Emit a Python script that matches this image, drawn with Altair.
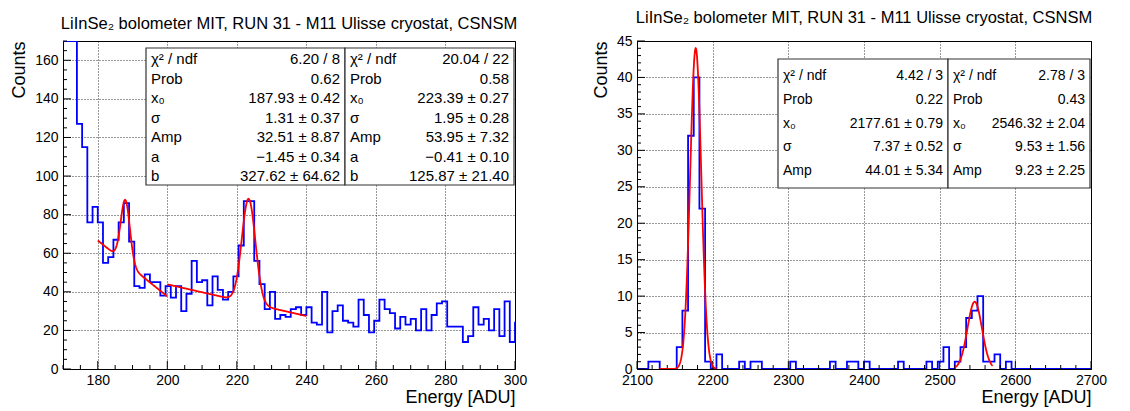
import altair as alt
import numpy as np
import pandas as pd

FONT = "Liberation Sans"
TITLE = "LiInSe₂ bolometer MIT, RUN 31 - M11 Ulisse cryostat, CSNSM"

# ---------------- left histogram (bin width 1.5, first bin starts at 168)
left_bin_start = 168.0
left_bin_width = 1.5
left_counts = [
    170, 170, 170, 170, 127, 115, 76, 84, 76, 55, 58, 67, 76, 86, 66, 43,
    42, 49, 45, 45, 38, 43, 37, 43, 30, 39, 56, 45, 46, 33, 48, 41,
    36, 40, 48, 64, 87, 87, 56, 44, 31, 40, 26, 28, 27, 31, 32, 28,
    32, 24, 23, 40, 19, 30, 33, 25, 24, 22, 36, 28, 19, 25, 36, 31,
    29, 21, 27, 23, 26, 20, 31, 20, 28, 34, 35, 22, 22, 22, 14, 17,
    32, 23, 26, 20, 31, 17, 35, 14, 24,
]
left_x_domain = [170, 300]
left_y_domain = [0, 170]
left_x_major = [180, 200, 220, 240, 260, 280, 300]
left_y_major = [0, 20, 40, 60, 80, 100, 120, 140, 160]

# fits: gaussian + linear (left), gaussian (right)
left_fit_x0 = [187.93, 223.39]
left_fit_sigma = [1.31, 1.95]
left_fit_amp = [32.51, 53.95]
left_fit_a = [-1.45, -0.41]
left_fit_b = [327.62, 125.87]
left_fit_range = [[180, 200], [200, 240]]

left_stat_labels = ["χ² / ndf", "Prob", "x₀", "σ", "Amp", "a", "b"]
left_stat_values = [
    ["6.20 / 8", "0.62", "187.93 ± 0.42", "1.31 ± 0.37", "32.51 ± 8.87", "−1.45 ± 0.34", "327.62 ± 64.62"],
    ["20.04 / 22", "0.58", "223.39 ± 0.27", "1.95 ± 0.28", "53.95 ± 7.32", "−0.41 ± 0.10", "125.87 ± 21.40"],
]

# ---------------- right histogram (bin width 7.5 from 2100)
right_bin_start = 2100.0
right_bin_width = 7.5
right_counts = [
    0, 0, 1, 1, 0, 0, 0, 3, 8, 32, 40, 22, 1, 0, 2, 0,
    0, 0, 1, 0, 1, 1, 0, 0, 0, 0, 0, 1, 0, 0, 0, 0,
    0, 0, 1, 0, 0, 1, 1, 0, 1, 0, 0, 0, 0, 0, 1, 0,
    0, 0, 0, 1, 0, 1, 3, 0, 1, 3, 7, 8, 10, 1, 1, 2,
    0, 1, 0, 0, 0, 0, 0, 0, 0, 0, 0, 0, 0, 0, 0, 0,
]
right_x_domain = [2100, 2700]
right_y_domain = [0, 45]
right_x_major = [2100, 2200, 2300, 2400, 2500, 2600, 2700]
right_y_major = [0, 5, 10, 15, 20, 25, 30, 35, 40, 45]

right_fit_x0 = [2177.61, 2546.32]
right_fit_sigma = [7.37, 9.53]
right_fit_amp = [44.01, 9.23]
right_fit_range = [[2130, 2205], [2520, 2570]]

right_stat_labels = ["χ² / ndf", "Prob", "x₀", "σ", "Amp"]
right_stat_values = [
    ["4.42 / 3", "0.22", "2177.61 ± 0.79", "7.37 ± 0.52", "44.01 ± 5.34"],
    ["2.78 / 3", "0.43", "2546.32 ± 2.04", "9.53 ± 1.56", "9.23 ± 2.25"],
]


def hist_frame(start, width, counts):
    edges = [start + i * width for i in range(len(counts) + 1)]
    return pd.DataFrame({"e": edges, "c": list(counts) + [counts[-1]]})


def fit_frame(lo, hi, x0, sigma, amp, a=0.0, b=0.0, n=200):
    xs = np.linspace(lo, hi, n)
    ys = amp * np.exp(-0.5 * ((xs - x0) / sigma) ** 2) + a * xs + b
    return pd.DataFrame({"e": xs, "c": ys})


def make_panel(hist_df, fit_dfs, xdom, ydom, xmaj, xminstep, ymaj, yminstep,
               W, H, boxes, labels, values, box_fs, row_h, y_first, y_title_pad):
    xs = alt.Scale(domain=xdom, nice=False, zero=False)
    ys = alt.Scale(domain=ydom, nice=False, zero=False)
    xax = alt.Axis(values=xmaj, grid=True, ticks=False, tickSize=0, domain=False,
                   labelFont=FONT, labelFontSize=14, labelPadding=4, labelFlush=False,
                   labelOverlap=False, format="d", labelColor="black",
                   title="Energy [ADU]", titleAnchor="end", titleFont=FONT, titleFontSize=18,
                   titleFontWeight="normal", titlePadding=1, titleColor="black",
                   gridDash=[1, 2], gridColor="#000", gridOpacity=0.8)
    yax = alt.Axis(values=ymaj, grid=True, ticks=False, tickSize=0, domain=False,
                   labelFont=FONT, labelFontSize=14, labelPadding=5, labelFlush=False,
                   labelOverlap=False, format="d", labelColor="black",
                   title="Counts", titleAnchor="end", titleFont=FONT, titleFontSize=18,
                   titleFontWeight="normal", titlePadding=y_title_pad, titleColor="black",
                   gridDash=[1, 2], gridColor="#000", gridOpacity=0.8)
    x_enc = alt.X("e:Q", scale=xs, axis=xax)
    y_enc = alt.Y("c:Q", scale=ys, axis=yax)

    layers = []
    layers.append(alt.Chart(hist_df).mark_line(interpolate="step-after", color="#0000ff",
                                                strokeWidth=1.8, clip=True)
                  .encode(x=x_enc, y=y_enc))
    # inward ticks
    xmin_vals = [v for v in np.arange(xdom[0], xdom[1] + 0.001, xminstep) if v not in xmaj]
    ymin_vals = [v for v in np.arange(ydom[0], ydom[1] + 0.001, yminstep) if v not in ymaj]
    layers.append(alt.Chart(pd.DataFrame({"e": xmaj})).mark_rule(color="black")
                  .encode(x=x_enc, y=alt.value(H), y2=alt.value(H - 8)))
    layers.append(alt.Chart(pd.DataFrame({"e": xmin_vals})).mark_rule(color="black")
                  .encode(x=x_enc, y=alt.value(H), y2=alt.value(H - 4)))
    layers.append(alt.Chart(pd.DataFrame({"c": ymaj})).mark_rule(color="black")
                  .encode(y=y_enc, x=alt.value(0), x2=alt.value(8)))
    layers.append(alt.Chart(pd.DataFrame({"c": ymin_vals})).mark_rule(color="black")
                  .encode(y=y_enc, x=alt.value(0), x2=alt.value(4)))
    for fd in fit_dfs:
        layers.append(alt.Chart(fd).mark_line(color="#ff0000", strokeWidth=1.8, clip=True)
                      .encode(x=x_enc, y=y_enc))
    one = pd.DataFrame({"k": [0]})
    for (bx0, bx1, by0, by1), vals in zip(boxes, values):
        layers.append(alt.Chart(one).mark_rect(fill="white", stroke="#333", strokeWidth=1.2)
                      .encode(x=alt.value(bx0), x2=alt.value(bx1), y=alt.value(by0), y2=alt.value(by1)))
        layers.append(alt.Chart(one).mark_text(align="left", baseline="middle", font=FONT,
                                               fontSize=box_fs, lineHeight=row_h, color="black")
                      .encode(x=alt.value(bx0 + 5), y=alt.value(y_first), text=alt.value(labels)))
        layers.append(alt.Chart(one).mark_text(align="right", baseline="middle", font=FONT,
                                               fontSize=box_fs, lineHeight=row_h, color="black")
                      .encode(x=alt.value(bx1 - 5), y=alt.value(y_first), text=alt.value(vals)))
    return alt.layer(*layers).properties(
        width=W, height=H,
        title=alt.TitleParams(TITLE, font=FONT, fontSize=16.5, fontWeight="normal",
                              anchor="middle", frame="group", offset=8, color="black"),
    )


left_hist = hist_frame(left_bin_start, left_bin_width, left_counts)
left_fits = [fit_frame(r[0], r[1], x0, s, amp, a, b)
             for r, x0, s, amp, a, b in zip(left_fit_range, left_fit_x0, left_fit_sigma,
                                             left_fit_amp, left_fit_a, left_fit_b)]
right_hist = hist_frame(right_bin_start, right_bin_width, right_counts)
right_fits = [fit_frame(r[0], r[1], x0, s, amp)
              for r, x0, s, amp in zip(right_fit_range, right_fit_x0, right_fit_sigma, right_fit_amp)]

LW, RW, PH = 452, 454, 328
left = make_panel(left_hist, left_fits, left_x_domain, left_y_domain, left_x_major, 5,
                  left_y_major, 5, LW, PH,
                  boxes=[(83, 282, 7, 144), (282, 451, 7, 144)],
                  labels=left_stat_labels, values=left_stat_values,
                  box_fs=15, row_h=19.5, y_first=18, y_title_pad=6)
right = make_panel(right_hist, right_fits, right_x_domain, right_y_domain, right_x_major, 20,
                   right_y_major, 1, RW, PH,
                   boxes=[(141, 311, 18, 147), (311, 453, 18, 147)],
                   labels=right_stat_labels, values=right_stat_values,
                   box_fs=14, row_h=23.75, y_first=35, y_title_pad=6)

chart = alt.hconcat(left, right, spacing=63).properties(
    padding={"left": 2, "top": 1, "right": 5, "bottom": 5}
).configure_view(stroke="black", strokeWidth=1)

chart.save("out.html", embed_options={"renderer": "svg", "actions": False})
